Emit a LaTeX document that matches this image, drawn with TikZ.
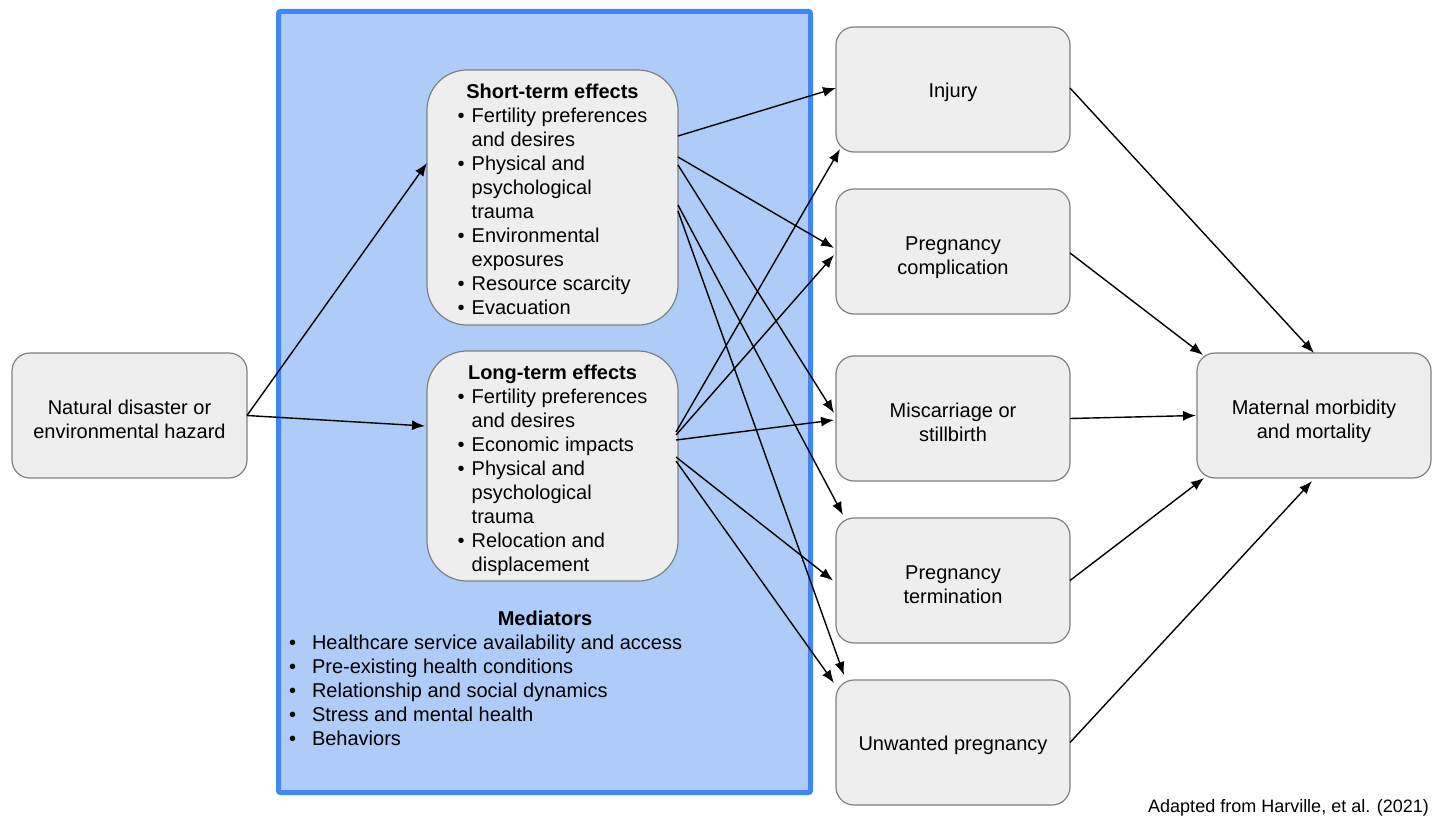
\documentclass[tikz,border=0pt]{standalone}
\usepackage{fontspec}
\setmainfont{Liberation Sans}
\usetikzlibrary{arrows.meta,calc}
\definecolor{medfill}{RGB}{175,203,248}
\definecolor{medline}{RGB}{66,133,244}
\definecolor{boxfill}{RGB}{238,238,238}
\definecolor{boxline}{RGB}{128,128,128}
\begin{document}
\begin{tikzpicture}[x=1pt,y=-1pt,
  every node/.style={font=\fontsize{20}{24}\selectfont, inner sep=0pt, outer sep=0pt, text=black},
  gbox/.style={draw=boxline, fill=boxfill, line width=1.2pt, rounded corners=18pt,
               minimum width=234pt, minimum height=125pt, align=center},
  oneline/.style={text height=20pt, text depth=5pt},
  twoline/.style={text height=50pt, text depth=5pt},
  ebox/.style={gbox, rounded corners=40pt, minimum width=251pt},
  medbox/.style={draw=medline, fill=medfill, line width=5pt, rounded corners=2pt,
                 minimum width=532pt, minimum height=781pt},
  arr/.style={-{Latex[length=13pt,width=10pt]}, line width=1.4pt, black}]
\useasboundingbox (0,0) rectangle (1437,816);

\node[medbox] (med) at (544.5,402) {};

\node[gbox, twoline, minimum width=235pt] (nd) at (129.5,415.5) {Natural disaster or\\environmental hazard};

\node[ebox, minimum height=255pt, text height=24.8pt, text depth=223.2pt] (st) at (552.5,197.5) {%
\begin{tabular}[t]{@{}l@{\hspace{7pt}}l@{}}
\multicolumn{2}{c}{\textbf{Short-term effects}}\\
• & Fertility preferences\\
  & and desires\\
• & Physical and\\
  & psychological\\
  & trauma\\
• & Environmental\\
  & exposures\\
• & Resource scarcity\\
• & Evacuation
\end{tabular}};

\node[ebox, minimum height=230pt, text height=26.8pt, text depth=199.2pt] (lt) at (552.5,466) {%
\begin{tabular}[t]{@{}l@{\hspace{7pt}}l@{}}
\multicolumn{2}{c}{\textbf{Long-term effects}}\\
• & Fertility preferences\\
  & and desires\\
• & Economic impacts\\
• & Physical and\\
  & psychological\\
  & trauma\\
• & Relocation and\\
  & displacement
\end{tabular}};

\node (medh) at (545,618) {\textbf{Mediators}};
\node[anchor=north west] (medl) at (289,632.5) {%
\begin{tabular}{@{}l@{\hspace{16pt}}l@{}}
• & Healthcare service availability and access\\
• & Pre-existing health conditions\\
• & Relationship and social dynamics\\
• & Stress and mental health\\
• & Behaviors
\end{tabular}};

\node[gbox, oneline] (inj)  at (953,89.5)  {Injury};
\node[gbox, twoline] (pc)   at (953,251.5) {Pregnancy\\complication};
\node[gbox, twoline] (mis)  at (953,418.5) {Miscarriage or\\stillbirth};
\node[gbox, twoline] (term) at (953,580.5) {Pregnancy\\termination};
\node[gbox, oneline] (unw)  at (953,742.5) {Unwanted pregnancy};

\node[gbox, twoline] (mm) at (1314,415.5) {Maternal morbidity\\and mortality};

\node[anchor=base east, font=\fontsize{18}{22}\selectfont] (cap) at (1429,812) {Adapted from Harville, et al. (2021)};

% hazard -> effects
\draw[arr] (nd.east) -- ($(st.west)+(0,-34.5)$);
\draw[arr] (nd.east) -- ($(lt.west)+(-2,-40)$);

% short-term -> outcomes
\draw[arr] ($(st.east)+(0,-61.5)$) -- ($(inj.west)+(0,-1.5)$);
\draw[arr] ($(st.east)+(0,-40.5)$) -- ($(pc.west)+(-2,-3.5)$);
\draw[arr] ($(st.east)+(0,-32.5)$) -- ($(mis.west)+(-2,-5.5)$);
\draw[arr] ($(st.east)+(0,7.5)$) -- ($(term.north west)+(7,-3)$);
\draw[arr] ($(st.east)+(0,13.5)$) -- ($(unw.north west)+(8,-5)$);

% long-term -> outcomes
\draw[arr] ($(lt.east)+(-2,-34)$) -- ($(inj.south west)+(4,-3)$);
\draw[arr] ($(lt.east)+(-2,-31)$) -- ($(pc.west)+(-2,3.5)$);
\draw[arr] ($(lt.east)+(-2,-26)$) -- ($(mis.west)+(-2,1.5)$);
\draw[arr] ($(lt.east)+(-2,-9)$) -- ($(term.west)+(-3,0)$);
\draw[arr] ($(lt.east)+(-2,-5)$) -- ($(unw.north west)+(-2,3)$);

% outcomes -> maternal
\draw[arr] ($(inj.east)+(0,-1.5)$) -- (mm.north);
\draw[arr] ($(pc.east)+(0,1.5)$) -- ($(mm.north west)+(6,2)$);
\draw[arr] (mis.east) -- ($(mm.west)+(-1,0)$);
\draw[arr] (term.east) -- ($(mm.south west)+(7,0)$);
\draw[arr] (unw.east) -- ($(mm.south)+(-2,3)$);
\end{tikzpicture}
\end{document}
